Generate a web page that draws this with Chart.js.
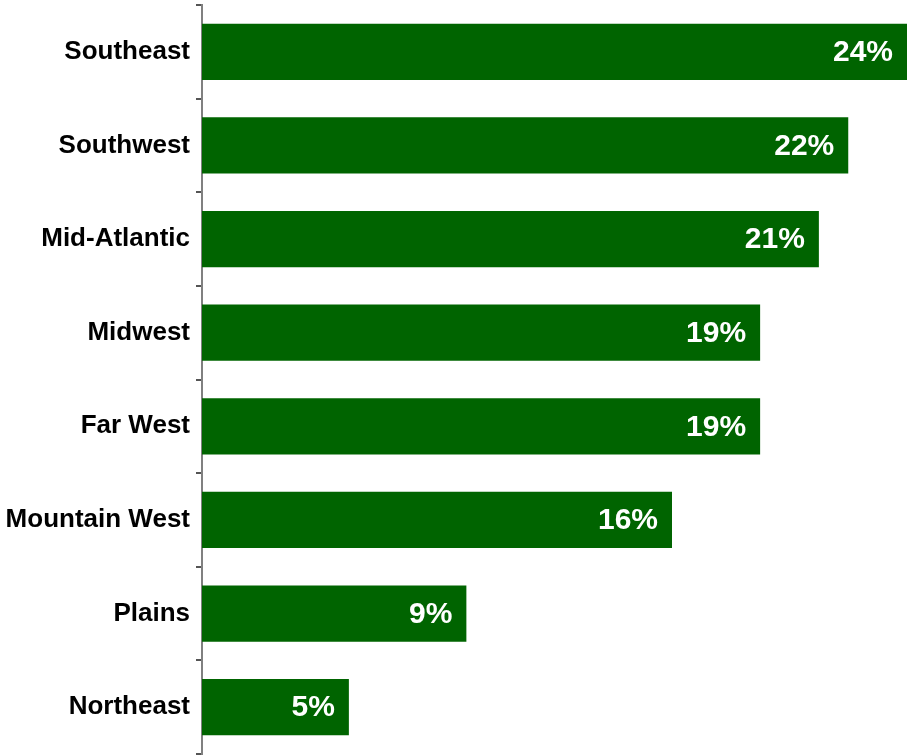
<!DOCTYPE html>
<html>
<head>
<meta charset="utf-8">
<script src="https://cdn.jsdelivr.net/npm/chart.js@4.4.0/dist/chart.umd.min.js"></script>
<style>
    html, body { margin: 0; padding: 0; background: #ffffff; }
    #wrap { width: 907px; height: 755px; }
</style>
</head>
<body>
<div id="wrap"><canvas id="regionChart"></canvas></div>
<script>
// Share by region, highest first
var regions = ['Southeast', 'Southwest', 'Mid-Atlantic', 'Midwest', 'Far West', 'Mountain West', 'Plains', 'Northeast'];
var shares = [24, 22, 21, 19, 19, 16, 9, 5];

// Writes the percentage in white just inside the end of each bar
var valueLabels = {
    id: 'valueLabels',
    afterDatasetsDraw: function(chart) {
        var ctx = chart.ctx;
        var meta = chart.getDatasetMeta(0);
        ctx.save();
        ctx.fillStyle = '#ffffff';
        ctx.font = 'bold 30px "Liberation Sans", Arial, sans-serif';
        ctx.textAlign = 'right';
        ctx.textBaseline = 'middle';
        meta.data.forEach(function(bar, i) {
            ctx.fillText(shares[i] + '%', bar.x - 14, bar.y + 1);
        });
        ctx.restore();
    }
};

var ctx = document.getElementById('regionChart').getContext('2d');
var regionChart = new Chart(ctx, {
    type: 'bar',
    data: {
        labels: regions,
        datasets: [{
            data: shares,
            backgroundColor: '#006400',
            borderWidth: 0,
            categoryPercentage: 1,
            barPercentage: 0.6
        }]
    },
    options: {
        indexAxis: 'y',
        responsive: true,
        maintainAspectRatio: false,
        animation: false,
        layout: { padding: { top: 5, bottom: 1, right: 0, left: 0 } },
        plugins: {
            legend: { display: false },
            tooltip: { enabled: false }
        },
        scales: {
            x: {
                display: false,
                min: 0,
                max: 24
            },
            y: {
                // fixed axis width, and no extra room above/below for the labels
                afterFit: function(scale) {
                    scale.width = 202;
                    scale.paddingTop = 0;
                    scale.paddingBottom = 0;
                },
                border: { color: '#808080', width: 2 },
                grid: {
                    drawOnChartArea: false,
                    color: '#555555',
                    lineWidth: 2,
                    tickLength: 6
                },
                ticks: {
                    color: '#000000',
                    padding: 6,
                    font: { family: '"Liberation Sans", Arial, sans-serif', size: 26, weight: 'bold' }
                }
            }
        }
    },
    plugins: [valueLabels]
});
</script>
</body>
</html>
